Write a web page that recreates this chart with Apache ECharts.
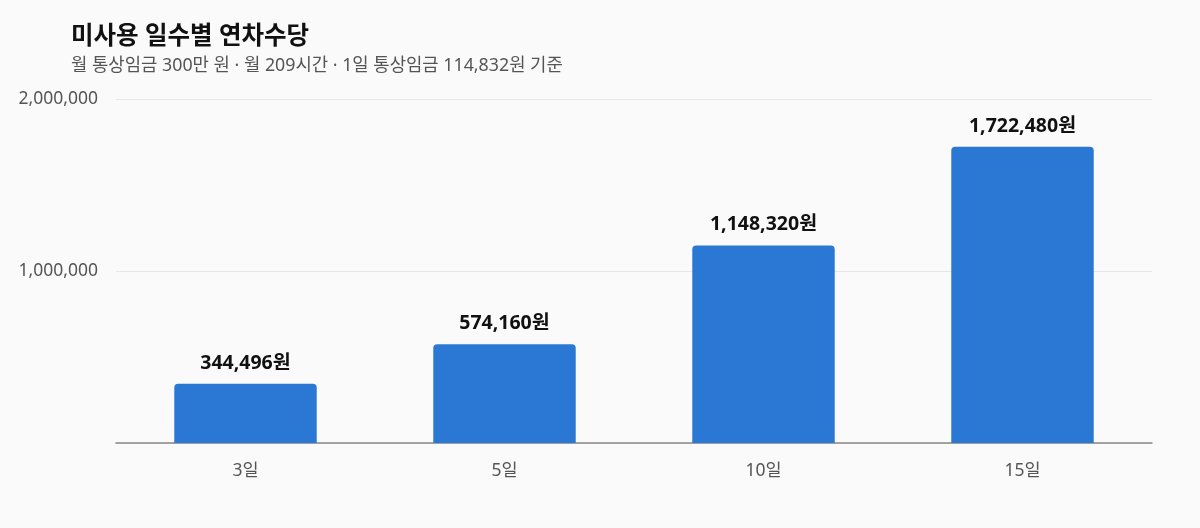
<!DOCTYPE html>
<html><head><meta charset="utf-8">
<script src="https://cdn.jsdelivr.net/npm/echarts@6/dist/echarts.min.js"></script>
<style>html,body{margin:0;padding:0;background:#fafafa}#c{width:1200px;height:528px}</style>
</head><body><div id="c"></div>
<script>
const categories = ['3일', '5일', '10일', '15일'];
const values = [344496, 574160, 1148320, 1722480];
const yTicks = [0, 1000000, 2000000];
const titleText = '미사용 일수별 연차수당';
const subtitleText = '월 통상임금 300만 원 · 월 209시간 · 1일 통상임금 114,832원 기준';
const FONT = '"Noto Sans", "Noto Sans CJK KR", sans-serif';
const chart = echarts.init(document.getElementById('c'));
chart.setOption({
  backgroundColor: '#fafafa',
  textStyle: { fontFamily: FONT },
  title: {
    text: titleText, subtext: subtitleText, left: 66, top: 20, itemGap: 8,
    textStyle: { fontFamily: FONT, fontSize: 24.5, fontWeight: 'bold', color: '#111' },
    subtextStyle: { fontFamily: FONT, fontSize: 17.8, color: '#555' }
  },
  grid: { left: 116, right: 48, top: 99, bottom: 85 },
  xAxis: {
    type: 'category', data: categories,
    axisLine: { lineStyle: { color: '#888', width: 1.5 } },
    axisTick: { show: false },
    axisLabel: { fontFamily: FONT, fontSize: 17.5, color: '#555', margin: 19 }
  },
  yAxis: {
    type: 'value', min: yTicks[0], max: yTicks[yTicks.length - 1], interval: yTicks[1] - yTicks[0],
    axisLine: { show: false }, axisTick: { show: false },
    splitLine: { lineStyle: { color: '#e6e6e6' } },
    axisLabel: { fontFamily: FONT, fontSize: 17.5, color: '#555', margin: 18,
      formatter: v => v === 0 ? '' : v.toLocaleString('en-US') }
  },
  series: [{
    type: 'bar', data: values, barWidth: '55%',
    itemStyle: { color: '#2b78d4', borderRadius: [4, 4, 0, 0] },
    label: { show: true, position: 'top', distance: 11, fontFamily: FONT, fontSize: 19.5,
      fontWeight: 'bold', color: '#111', formatter: p => p.value.toLocaleString('en-US') + '원' }
  }]
});
</script></body></html>
